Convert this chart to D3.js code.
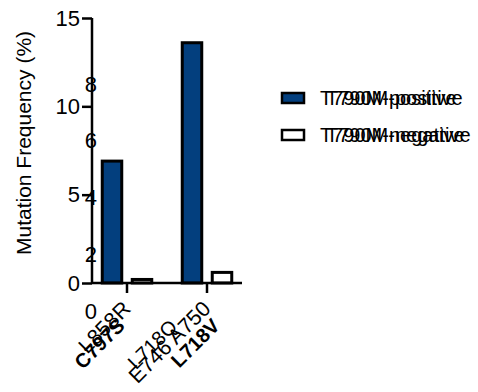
<!DOCTYPE html>
<html>
<head>
<meta charset="utf-8">
<script src="https://cdn.jsdelivr.net/npm/d3@7"></script>
<style>
  html, body { margin: 0; padding: 0; background: #fff; }
  svg { display: block; font-family: "Liberation Sans", Arial, sans-serif; }
</style>
</head>
<body>
<svg id="chart" width="478" height="392"></svg>
<script>
// Mutation frequency by EGFR mutation, split by T790M status
const categories = ["L858R", "E746 A750"];
const seriesNames = ["T790M-positive", "T790M-negative"];
const positiveValues = [6.9, 13.6];
const negativeValues = [0.2, 0.6];
const yTicks = [0, 5, 10, 15];

// second layer of labels printed over the same panel
const overlayCategories = ["C797S", "L718Q", "L718V"];
const overlayBold = [true, false, true];
const overlayTicks = [0, 2, 4, 6, 8];

const colors = { "T790M-positive": "#033f7e", "T790M-negative": "#ffffff" };

const svg = d3.select("#chart");

const y = d3.scaleLinear().domain([0, 15]).range([283, 18]);
const x0 = d3.scaleBand().domain(categories).range([87, 247]);
const x1 = d3.scaleBand().domain(seriesNames).range([-30, 30])
  .paddingInner(0.25).paddingOuter(0.125);

const rows = categories.map((c, i) => ({
  cat: c,
  vals: [
    { s: seriesNames[0], v: positiveValues[i] },
    { s: seriesNames[1], v: negativeValues[i] }
  ]
}));

// bars
const groups = svg.append("g").selectAll("g").data(rows).join("g")
  .attr("transform", d => `translate(${x0(d.cat) + x0.bandwidth() / 2},0)`);
groups.selectAll("rect").data(d => d.vals).join("rect")
  .attr("x", d => x1(d.s) + 1.5)
  .attr("width", x1.bandwidth() - 3)
  .attr("y", d => y(d.v))
  .attr("height", d => y(0) - y(d.v))
  .attr("fill", d => colors[d.s])
  .attr("stroke", "#000")
  .attr("stroke-width", 3);

// y axis
const yAxis = svg.append("g").attr("transform", "translate(92,0)")
  .call(d3.axisLeft(y).tickValues(yTicks).tickSize(10).tickPadding(2));
yAxis.select(".domain").attr("d", `M0,${y(15)}V${y(0)}`);
yAxis.selectAll("line, path").attr("stroke", "#000").attr("stroke-width", 2.5);
yAxis.selectAll("text").attr("font-size", 22).attr("fill", "#000")
  .attr("font-family", "Liberation Sans, Arial, sans-serif");

// x axis
const xAxis = svg.append("g").attr("transform", `translate(0,${y(0)})`)
  .call(d3.axisBottom(x0).tickSize(10).tickFormat(""));
xAxis.select(".domain").attr("d", "M92,0H242");
xAxis.selectAll("line, path").attr("stroke", "#000").attr("stroke-width", 2.5);

// category labels, rotated
svg.append("g").selectAll("text").data(categories).join("text")
  .attr("transform", d => `translate(${x0(d) + x0.bandwidth() / 2 + 5},310) rotate(-45)`)
  .attr("text-anchor", "end")
  .attr("font-size", 21.5)
  .text(d => d);

// second label layer
const yB = d3.scaleLinear().domain([0, 8]).range([311, 84]);
svg.append("g").selectAll("text").data(overlayTicks).join("text")
  .attr("x", 97).attr("y", d => yB(d)).attr("dy", "0.35em")
  .attr("text-anchor", "end").attr("font-size", 22)
  .text(d => d);

const xB = d3.scalePoint().domain(overlayCategories).range([126, 221]);
svg.append("g").selectAll("text").data(overlayCategories).join("text")
  .attr("transform", d => d === "L718Q"
    ? `translate(${xB(d) + 5},328) rotate(-45)`
    : `translate(${xB(d)},327) rotate(-45)`)
  .attr("text-anchor", "end")
  .attr("font-size", 20)
  .attr("font-weight", (d, i) => overlayBold[i] ? "bold" : "normal")
  .text(d => d);

// y axis title
svg.append("text")
  .attr("transform", "translate(31,143) rotate(-90)")
  .attr("text-anchor", "middle")
  .attr("font-size", 21)
  .text("Mutation Frequency (%)");

// legend
const legend = svg.append("g").selectAll("g").data(seriesNames).join("g")
  .attr("transform", (d, i) => `translate(282,${93 + i * 37})`);
legend.append("rect")
  .attr("width", 22).attr("height", 10)
  .attr("fill", d => colors[d]).attr("stroke", "#000").attr("stroke-width", 2.5);
[0, 6].forEach(off => {
  legend.append("text")
    .attr("x", 38 + off).attr("y", 5).attr("dy", "0.35em")
    .attr("font-size", 20)
    .text(d => d);
});
</script>
</body>
</html>
